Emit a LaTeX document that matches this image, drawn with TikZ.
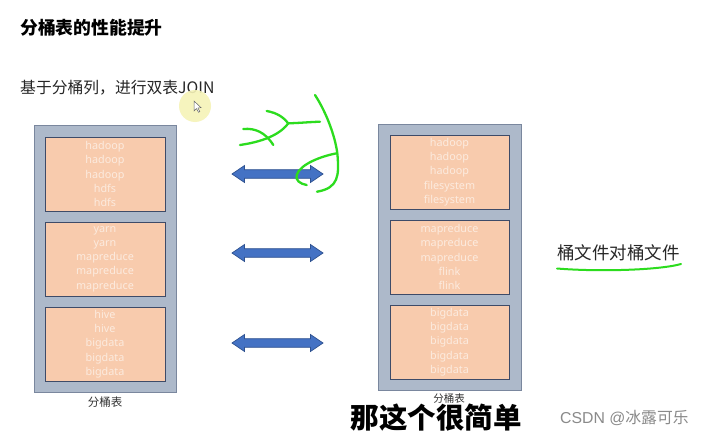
\documentclass[tikz,border=0pt]{standalone}
\usepackage{fontspec}
\setmainfont{Noto Sans CJK SC}
\newfontfamily\latinf{Noto Sans}
\newfontfamily\arialf{Liberation Sans}
\definecolor{peach}{HTML}{F8CBAD}
\definecolor{outergray}{HTML}{ADB9CA}
\definecolor{outeredge}{HTML}{7A879E}
\definecolor{inneredge}{HTML}{3E4B68}
\definecolor{boxtext}{HTML}{FCEBDF}
\definecolor{arrowblue}{HTML}{4472C4}
\definecolor{arrowedge}{HTML}{2F528F}
\definecolor{pen}{HTML}{2CDC1E}
\definecolor{hilite}{HTML}{F6F3B8}
\definecolor{wm}{HTML}{8A8A8A}
\begin{document}
\begin{tikzpicture}[x=1pt,y=-1pt,
  outerbox/.style={draw=outeredge,fill=outergray,line width=1pt},
  bucket/.style={draw=inneredge,fill=peach,line width=1pt,minimum width=120pt,minimum height=74pt,
    inner sep=0pt,text=boxtext,align=center,font=\latinf\fontsize{10.8}{14.3}\selectfont},
  tablabel/.style={font=\fontsize{11.5}{12}\selectfont,text=black!80,inner sep=0pt},
  penline/.style={draw=pen,line width=2.3pt,line cap=round,line join=round},
  dblarrow/.pic={\filldraw[fill=arrowblue,draw=arrowedge,line width=0.7pt]
     (-45.5,0) -- (-33,-8.5) -- (-33,-4.3) -- (33,-4.3) -- (33,-8.5) -- (45.5,0)
     -- (33,8.5) -- (33,4.3) -- (-33,4.3) -- (-33,8.5) -- cycle;}
]
\useasboundingbox (0,0) rectangle (712,436);
\fill[white] (0,0) rectangle (712,436);

% titles
\node[anchor=west,inner sep=0pt,font=\bfseries\fontsize{17.8}{18}\selectfont] (title) at (20,28) {分桶表的性能提升};
\node[anchor=west,inner sep=0pt,font=\fontsize{15.8}{17}\selectfont,text=black!85] (sub) at (20,88) {基于分桶列，进行双表JOIN};

% cursor highlight
\fill[hilite,opacity=0.9] (195,106) circle (16);
\draw[black!60,fill=white,line width=0.5pt] (194,101) -- (194,111) -- (196.5,108.6) -- (198.5,112.3) -- (199.8,111.6) -- (197.9,108) -- (201,107.6) -- cycle;

% left table
\draw[outerbox] (34,125) rectangle (176,392);
\node[bucket] (l1) at (105,174) {hadoop\\hadoop\\hadoop\\hdfs\\hdfs};
\node[bucket] (l2) at (105,259) {yarn\\yarn\\mapreduce\\mapreduce\\mapreduce};
\node[bucket] (l3) at (105,344) {hive\\hive\\bigdata\\bigdata\\bigdata};
\node[tablabel] (llab) at (105,402) {分桶表};

% right table
\draw[outerbox] (378,124) rectangle (521,390);
\node[bucket,minimum width=119pt] (r1) at (449.5,172) {hadoop\\hadoop\\hadoop\\filesystem\\filesystem};
\node[bucket,minimum width=119pt] (r2) at (449.5,257) {mapreduce\\mapreduce\\mapreduce\\flink\\flink};
\node[bucket,minimum width=119pt] (r3) at (449.5,342) {bigdata\\bigdata\\bigdata\\bigdata\\bigdata};
\node[tablabel,font=\fontsize{10.5}{11}\selectfont] (rlab) at (449,399) {分桶表};

% double arrows
\pic at (277.5,174) {dblarrow};
\pic at (277.5,253) {dblarrow};
\pic at (277.5,343) {dblarrow};

% right annotation
\node[anchor=west,inner sep=0pt,font=\fontsize{17.5}{18}\selectfont,text=black!85] (note) at (557,253) {桶文件对桶文件};
\draw[penline,line width=2pt] (557,268.5) .. controls (600,272) and (660,270) .. (681,264);

% green scribbles
\draw[penline] (266.7,111) .. controls (278,113) and (284,118) .. (288.3,123.3) .. controls (300,123) and (310,122) .. (320,121.7);
\draw[penline] (288.3,123.3) .. controls (282,132) and (268,141) .. (240,145);
\draw[penline] (243.3,129) .. controls (255,128) and (265,132) .. (273.3,145);
\draw[penline] (315,95) .. controls (328,115) and (336,140) .. (337.5,155) .. controls (339,175) and (339,188) .. (317,191.7);
\draw[penline] (336.7,153.3) .. controls (322,156) and (300,164) .. (296.7,175) .. controls (295,180) and (300,184) .. (306.7,185);

% subtitle overlay
\node[inner sep=0pt,font=\bfseries\fontsize{28.5}{30}\selectfont,text=black] (caption) at (436,418) {那这个很简单};

% watermark
\node[anchor=west,inner sep=0pt,font=\fontsize{15.8}{16}\selectfont,text=wm] (wmark) at (560,418) {\arialf CSDN @\rmfamily 冰露可乐};
\end{tikzpicture}
\end{document}
